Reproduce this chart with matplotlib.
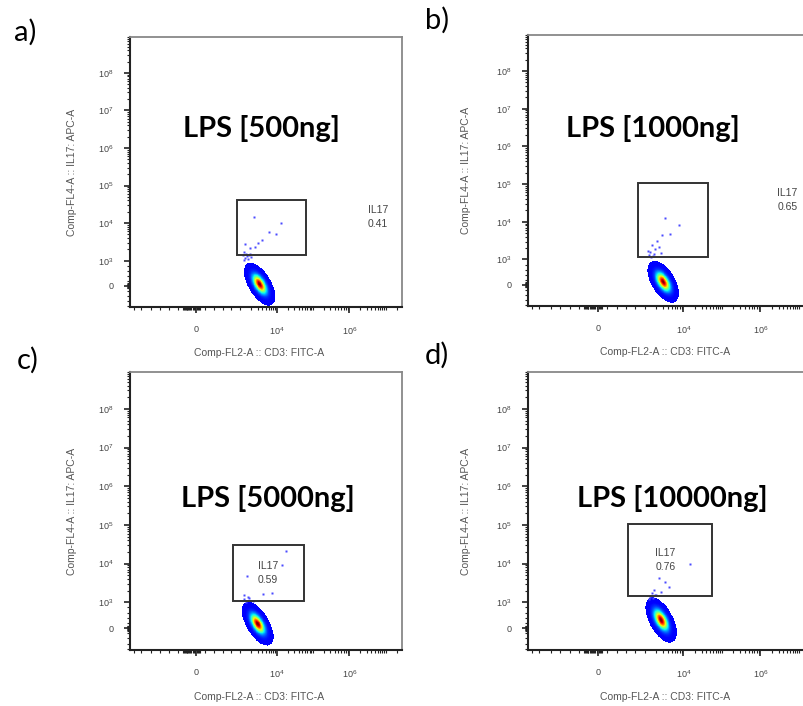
import numpy as np
import matplotlib.pyplot as plt
from matplotlib.scale import SymmetricalLogTransform
from matplotlib.patches import Rectangle

plt.rcParams['font.family'] = ['Liberation Sans', 'DejaVu Sans']
plt.rcParams['mathtext.default'] = 'regular'

# four LPS doses, IL17 gate frequency (%)
panel_tags = ['a)', 'b)', 'c)', 'd)']
doses = ['LPS [500ng]', 'LPS [1000ng]', 'LPS [5000ng]', 'LPS [10000ng]']
il17_pct = [0.41, 0.65, 0.59, 0.76]

# IL17 gate (CD3 range, IL17 range) and where its label sits
gate_x = [(920, 66000), (850, 43600), (830, 55000), (640, 55000)]
gate_y = [(1380, 41000), (1170, 110000), (1060, 31000), (1430, 105000)]
label_x = [6.0e6, 5.0e6, 5750, 3390]
label_y = [14800, 37600, 5750, 12500]

# main CD3+ population: centre and spread (decades), tilt (deg)
cloud_x = [3400, 3000, 3000, 2650]
cloud_y = [60, 112, 167, 313]
cloud_major = [0.23, 0.22, 0.23, 0.23]
cloud_minor = [0.11, 0.11, 0.11, 0.11]
cloud_angle = [-58, -60, -57, -62]

# sparse events above the main population
events_x = [
    [2340, 12900, 6030, 9300, 3890, 3020, 1320, 1820, 2510, 1430, 1700, 1250, 2000,
     1150, 1350, 1550, 1900, 1250, 1650],
    [3310, 7600, 4470, 2750, 2040, 1510, 1800, 2300, 1400, 2600, 1300, 1600, 1200,
     1450, 1750],
    [18600, 13800, 1510, 4170, 7250, 1300, 1700, 2200, 1250, 1450, 1600],
    [14800, 4170, 2300, 3310, 1700, 1500, 2000, 2600, 1350, 1600, 1250, 1850],
]
events_y = [
    [14100, 10000, 5900, 5250, 3500, 2950, 2750, 2190, 2340, 1550, 1400, 1700, 1250,
     1450, 1150, 1300, 1500, 1050, 1100],
    [12600, 8100, 4800, 4350, 3090, 2450, 1900, 2100, 1600, 1500, 1350, 1250, 1700,
     1150, 1400],
    [20700, 9300, 4700, 1660, 1780, 1500, 1300, 1100, 1200, 1000, 1400],
    [10000, 2500, 4150, 3300, 2130, 1700, 1500, 1800, 1400, 1300, 1200, 1550],
]

# biexponential-like display (symlog)
LIN_X, LS_X = 1000, 1.1
LIN_Y, LS_Y = 1000, 0.6
XLIM = (-3900, 2.8e7)
YLIM = (-850, 3.3e8)

W, H = 804, 706
# axes boxes in pixels: left, top, right, bottom
boxes = [(130, 37, 402, 307), (528, 35, 816, 306),
         (130, 372, 402, 650), (528, 372, 816, 650)]
tag_pos = [(25, 32), (437, 20), (28, 360), (437, 355)]
title_pos = [(261, 129), (653, 129), (268, 498), (672, 498)]

fig = plt.figure(figsize=(W / 100, H / 100), dpi=100)

tx = SymmetricalLogTransform(10, LIN_X, LS_X)
ty = SymmetricalLogTransform(10, LIN_Y, LS_Y)


def draw_cloud(ax, cx, cy, smaj, smin, ang):
    # density of the population laid out in display (decade) space
    uc = tx.transform(np.array([cx]))[0] / LIN_X
    vc = ty.transform(np.array([cy]))[0] / LIN_Y
    u = uc + np.linspace(-1.0, 1.0, 240)
    v = vc + np.linspace(-1.0, 1.0, 240)
    U, V = np.meshgrid(u, v)
    a = np.deg2rad(ang)
    du, dv = U - uc, V - vc
    p = du * np.cos(a) + dv * np.sin(a)
    q = -du * np.sin(a) + dv * np.cos(a)
    dens = np.exp(-0.5 * ((p / smaj) ** 2 + (q / smin) ** 2))
    dens = np.ma.masked_less(dens, np.exp(-0.5 * 2.8 ** 2))
    X = tx.inverted().transform(U.ravel() * LIN_X).reshape(U.shape)
    Y = ty.inverted().transform(V.ravel() * LIN_Y).reshape(V.shape)
    ax.pcolormesh(X, Y, dens ** 1.8, cmap='jet', vmin=-0.13, vmax=1, shading='nearest',
                  rasterized=True, zorder=2)


for i in range(4):
    l, t, r, b = boxes[i]
    ax = fig.add_axes([l / W, 1 - b / H, (r - l) / W, (b - t) / H])
    ax.set_xscale('symlog', linthresh=LIN_X, linscale=LS_X)
    ax.set_yscale('symlog', linthresh=LIN_Y, linscale=LS_Y)
    ax.set_xlim(*XLIM)
    ax.set_ylim(*YLIM)

    draw_cloud(ax, cloud_x[i], cloud_y[i], cloud_major[i], cloud_minor[i], cloud_angle[i])
    ax.plot(events_x[i], events_y[i], 's', ms=1.6, mec='none', color='#4a4aff', zorder=3)

    gx, gy = gate_x[i], gate_y[i]
    ax.add_patch(Rectangle((gx[0], gy[0]), gx[1] - gx[0], gy[1] - gy[0],
                           fill=False, ec='#333333', lw=1.4, zorder=4))
    ax.text(label_x[i], label_y[i], 'IL17\n%.2f' % il17_pct[i], fontsize=7.5,
            color='#444444', ha='center', va='center', linespacing=1.5, zorder=5)

    # ticks
    yt = [0] + [10 ** k for k in range(3, 9)]
    ax.set_yticks(yt, ['0'] + ['$10^%d$' % k for k in range(3, 9)])
    ymin = [m * 10 ** k for k in range(3, 9) for m in range(2, 10)]
    ymin += list(range(-800, 801, 200)) + list(range(-100, 101, 20))
    ax.set_yticks(ymin, minor=True)
    ax.set_xticks([0, 1e4, 1e6], ['0', '$10^4$', '$10^6$'])
    xmin = [s * m * 10 ** k for s in (1, -1) for k in range(3, 8) for m in range(1, 10)]
    xmin += list(range(-800, 801, 200)) + list(range(-300, 101, 25))
    ax.set_xticks([v for v in xmin if XLIM[0] < v < XLIM[1]], minor=True)
    ax.tick_params(which='major', length=4, width=1.2, labelsize=6.5,
                   labelcolor='#444444', color='#222222')
    ax.tick_params(which='minor', length=2.5, width=0.8, color='#222222')
    ax.tick_params(axis='x', which='major', pad=9)
    ax.tick_params(axis='y', which='major', pad=8)

    for s in ('left', 'bottom'):
        ax.spines[s].set_color('#222222')
        ax.spines[s].set_linewidth(1.5)
    for s in ('top', 'right'):
        ax.spines[s].set_color('#888888')
        ax.spines[s].set_linewidth(1.3)

    ax.text(0.475, -0.17, 'Comp-FL2-A :: CD3: FITC-A', transform=ax.transAxes,
            fontsize=7.5, color='#555555', ha='center', va='center')
    ax.text(-0.215, 0.5, 'Comp-FL4-A :: IL17: APC-A', transform=ax.transAxes,
            fontsize=7.5, color='#555555', ha='center', va='center', rotation=90)

    tp = tag_pos[i]
    fig.text(tp[0] / W, 1 - tp[1] / H, panel_tags[i], fontsize=21,
             family='Lato', ha='center', va='center')
    tt = title_pos[i]
    fig.text(tt[0] / W, 1 - tt[1] / H, doses[i], fontsize=21,
             family='Lato', weight='bold', ha='center', va='center')

fig.savefig('out.png', dpi=100)
